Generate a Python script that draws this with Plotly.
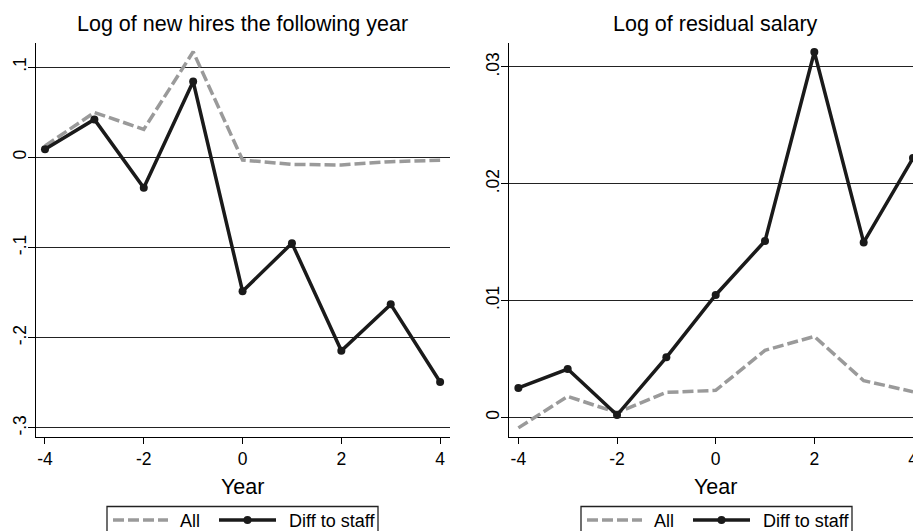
import plotly.graph_objects as go

# Event-time axis (years relative to the event)
years = [-4, -3, -2, -1, 0, 1, 2, 3, 4]

# Log of new hires the following year
hires_all = [0.0126, 0.0497, 0.031, 0.117, -0.003, -0.0078, -0.0085, -0.0048, -0.0033]
hires_diff = [0.0089, 0.042, -0.0337, 0.084, -0.1485, -0.0952, -0.2144, -0.163, -0.249]

# Log of residual salary
salary_all = [-0.0009, 0.0018, 0.0004, 0.00214, 0.00231, 0.00574, 0.00693, 0.00314, 0.0022]
salary_diff = [0.00252, 0.00414, 0.0002, 0.00514, 0.01048, 0.0151, 0.03128, 0.01498, 0.0222]

x_ticks = [-4, -2, 0, 2, 4]
hires_ticks = [0.1, 0, -0.1, -0.2, -0.3]
hires_labels = [".1", "0", "-.1", "-.2", "-.3"]
salary_ticks = [0, 0.01, 0.02, 0.03]
salary_labels = ["0", ".01", ".02", ".03"]

series_names = ["All", "Diff to staff"]

FONT = "Liberation Sans, Arial, Helvetica, sans-serif"
GRAY = "#9a9a9a"
BLACK = "#1a1a1a"
ALL_DASH = "11px,4px"
W, H = 913, 531

fig = go.Figure()


def add_panel(xa, ya, all_vals, diff_vals):
    fig.add_trace(go.Scatter(
        x=years, y=all_vals, xaxis=xa, yaxis=ya, mode="lines", name=series_names[0],
        line=dict(color=GRAY, width=3.5, dash=ALL_DASH), showlegend=False,
    ))
    fig.add_trace(go.Scatter(
        x=years, y=diff_vals, xaxis=xa, yaxis=ya, mode="lines+markers",
        name=series_names[1], line=dict(color=BLACK, width=3.5),
        marker=dict(color=BLACK, size=8), showlegend=False,
    ))


add_panel("x", "y", hires_all, hires_diff)
add_panel("x2", "y2", salary_all, salary_diff)

ydom = [1 - 437 / H, 1 - 43 / H]

xcommon = dict(
    tickvals=x_ticks, ticktext=[str(t) for t in x_ticks],
    ticks="outside", ticklen=6, tickwidth=1, tickcolor="black",
    showline=True, linecolor="black", linewidth=1.3,
    showgrid=False, zeroline=False,
    tickfont=dict(family=FONT, size=17.5, color="black"),
    ticklabeloverflow="allow",
)
ycommon = dict(
    ticks="outside", ticklen=7, tickwidth=1, tickcolor="black",
    showline=True, linecolor="black", linewidth=1.3,
    showgrid=True, gridcolor="#222222", gridwidth=1, zeroline=False,
    tickangle=-90, tickfont=dict(family=FONT, size=17.5, color="black"),
    ticklabelstandoff=-5,
)

fig.update_layout(
    width=W, height=H,
    margin=dict(l=0, r=0, t=0, b=0, autoexpand=False),
    paper_bgcolor="white", plot_bgcolor="white",
    font=dict(family=FONT, color="black"),
    showlegend=False,
    xaxis=dict(domain=[36 / W, 450 / W], range=[-4.182, 4.2], anchor="y", **xcommon),
    yaxis=dict(domain=ydom, range=[-0.31, 0.1267], anchor="x",
               tickvals=hires_ticks, ticktext=hires_labels, **ycommon),
    xaxis2=dict(domain=[509 / W, 1.0], range=[-4.19, 4.0], anchor="y2", **xcommon),
    yaxis2=dict(domain=ydom, range=[-0.00168, 0.03205], anchor="x2",
                tickvals=salary_ticks, ticktext=salary_labels, **ycommon),
)

# Panel titles and x-axis titles, centred on year 0 of each panel
for xref, title in (("x", "Log of new hires the following year"), ("x2", "Log of residual salary")):
    fig.add_annotation(x=0, xref=xref, y=1 - 24 / H, yref="paper", text=title,
                       showarrow=False, font=dict(family=FONT, size=21.5, color="black"),
                       xanchor="center", yanchor="middle")
    fig.add_annotation(x=0, xref=xref, y=1 - 487 / H, yref="paper", text="Year",
                       showarrow=False, font=dict(family=FONT, size=21.5, color="black"),
                       xanchor="center", yanchor="middle")


# Boxed legend below each panel (pixel offsets from the box's left edge)
def px_x(p):
    return p / W


def px_y(p):
    return 1 - p / H


def add_legend(left):
    top, bottom, mid = 506.5, 545, 520
    fig.add_shape(type="rect", xref="paper", yref="paper",
                  x0=px_x(left), x1=px_x(left + 271), y0=px_y(bottom), y1=px_y(top),
                  line=dict(color="#222222", width=1.3), fillcolor="white", layer="above")
    fig.add_shape(type="line", xref="paper", yref="paper",
                  x0=px_x(left + 6), x1=px_x(left + 61), y0=px_y(mid), y1=px_y(mid),
                  line=dict(color=GRAY, width=3.5, dash=ALL_DASH), layer="above")
    fig.add_annotation(x=px_x(left + 71), y=px_y(mid + 1), xref="paper", yref="paper",
                       text=series_names[0], showarrow=False, xanchor="left", yanchor="middle",
                       font=dict(family=FONT, size=18, color="black"))
    fig.add_shape(type="line", xref="paper", yref="paper",
                  x0=px_x(left + 112), x1=px_x(left + 169), y0=px_y(mid), y1=px_y(mid),
                  line=dict(color=BLACK, width=3.5), layer="above")
    r = 4
    fig.add_shape(type="circle", xref="paper", yref="paper",
                  x0=px_x(left + 140.5 - r), x1=px_x(left + 140.5 + r),
                  y0=px_y(mid + r), y1=px_y(mid - r),
                  line=dict(color=BLACK, width=0), fillcolor=BLACK, layer="above")
    fig.add_annotation(x=px_x(left + 180), y=px_y(mid + 1), xref="paper", yref="paper",
                       text=series_names[1], showarrow=False, xanchor="left", yanchor="middle",
                       font=dict(family=FONT, size=18, color="black"))


add_legend(107)
add_legend(581)

fig.write_html("out.html")
